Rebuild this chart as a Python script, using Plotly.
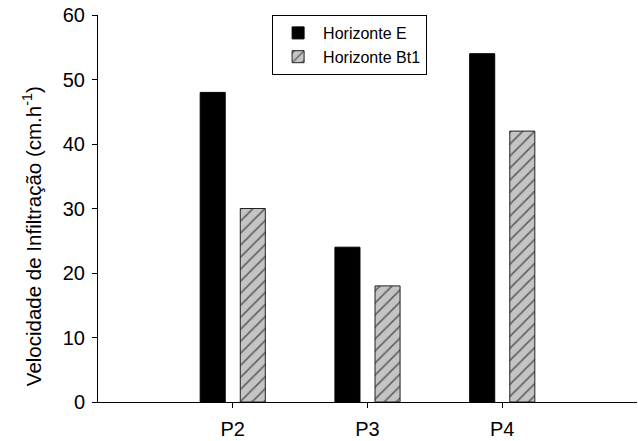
import plotly.graph_objects as go

categories = ["P2", "P3", "P4"]
horizonte_e = [48, 24, 54]
horizonte_bt1 = [30, 18, 42]
y_ticks = [0, 10, 20, 30, 40, 50, 60]
y_title = "Velocidade de Infiltração (cm.h<sup>-1</sup>)"

fig = go.Figure()
fig.add_trace(go.Bar(
    x=categories, y=horizonte_e, name="Horizonte E",
    marker=dict(color="black", line=dict(color="black", width=1)),
))
fig.add_trace(go.Bar(
    x=categories, y=horizonte_bt1, name="Horizonte Bt1",
    marker=dict(color="#c4c4c4", line=dict(color="#222222", width=1),
                pattern=dict(shape="/", fgcolor="black", bgcolor="#c4c4c4",
                             size=8.5, solidity=0.2)),
))

font_family = "Liberation Sans, Arial, sans-serif"
fig.update_layout(
    width=638, height=441,
    margin=dict(l=98, r=1, t=15, b=36),
    paper_bgcolor="white", plot_bgcolor="white",
    barmode="group", bargap=0.405, bargroupgap=0.375,
    font=dict(family=font_family, color="black", size=20),
    showlegend=True,
    legend=dict(x=0.323, y=1.0, xanchor="left", yanchor="top",
                bgcolor="white", bordercolor="black", borderwidth=1,
                font=dict(size=16), itemwidth=40),
    xaxis=dict(type="category", range=[-1, 3], showline=True, linecolor="black",
               linewidth=1, ticks="outside", ticklen=5, tickcolor="black",
               showgrid=False, zeroline=False, tickfont=dict(size=20),
               ticklabelstandoff=4),
    yaxis=dict(range=[0, 60], tickvals=y_ticks, showline=True, linecolor="black",
               linewidth=1, ticks="outside", ticklen=5, tickcolor="black",
               showgrid=False, zeroline=False, tickfont=dict(size=20),
               ticklabelstandoff=3),
    annotations=[dict(text=y_title, xref="paper", yref="paper",
                      x=-0.121, y=0.428, xanchor="center", yanchor="middle",
                      textangle=-90, showarrow=False,
                      font=dict(size=20.5))],
)

fig.write_html("out.html", config={"displayModeBar": False},
               post_script="document.body.style.margin='0';")
